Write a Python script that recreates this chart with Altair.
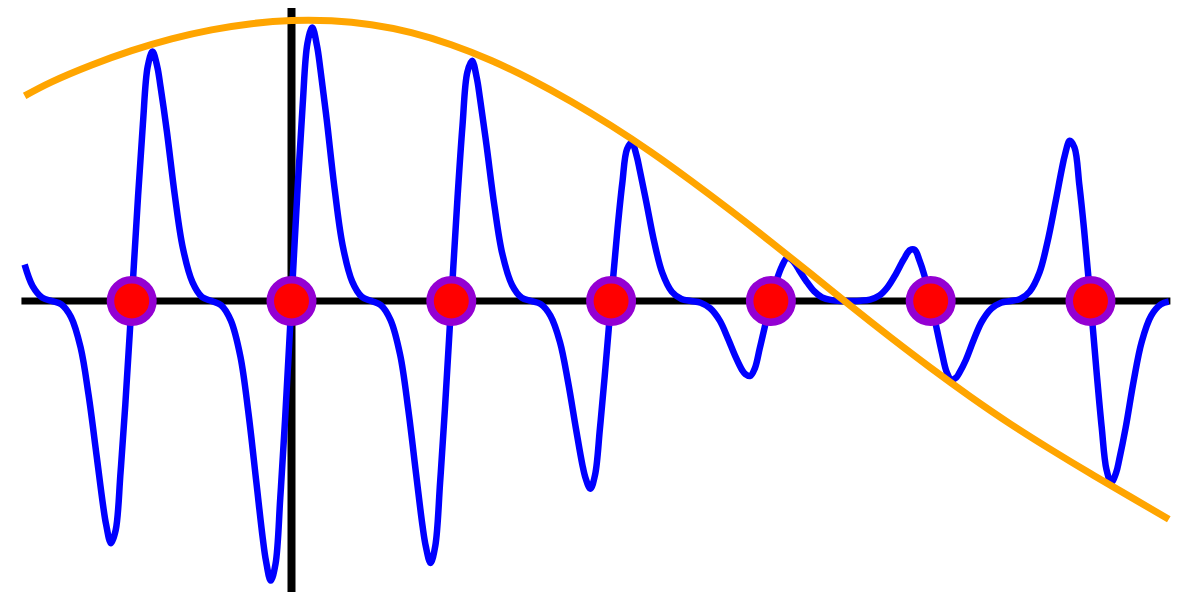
import altair as alt
import pandas as pd

# Sample points (sample index units) on the baseline
sample_x = [-1, 0, 1, 2, 3, 4, 5]
sample_y = [0.0, 0.0, 0.0, 0.0, 0.0, 0.0, 0.0]

# Orange envelope curve
orange_x = [-1.67, -1.50, -1.25, -1.00, -0.75, -0.50, -0.25, 0.00, 0.25, 0.50,
            0.75, 1.00, 1.25, 1.50, 1.75, 2.00, 2.25, 2.50, 2.75, 3.00,
            3.25, 3.50, 3.75, 4.00, 4.25, 4.50, 4.75, 5.00, 5.25, 5.49]
orange_y = [0.730, 0.780, 0.840, 0.891, 0.933, 0.965, 0.987, 0.998, 0.997, 0.983,
            0.955, 0.912, 0.856, 0.788, 0.710, 0.624, 0.530, 0.428, 0.321, 0.210,
            0.097, -0.018, -0.130, -0.238, -0.341, -0.438, -0.528, -0.614, -0.697, -0.777]

# Blue signal curve
blue_x = [-1.67, -1.62, -1.56, -1.50,
          -1.44, -1.38, -1.32, -1.27, -1.22, -1.18, -1.16, -1.13, -1.10, -1.07, -1.04, -1.00,
          -0.96, -0.93, -0.90, -0.87, -0.84, -0.82, -0.78, -0.73, -0.68, -0.62, -0.56, -0.50,
          -0.44, -0.38, -0.32, -0.27, -0.22, -0.18, -0.16, -0.13, -0.10, -0.07, -0.04, 0.00,
          0.04, 0.07, 0.10, 0.13, 0.16, 0.18, 0.22, 0.27, 0.32, 0.38, 0.44, 0.50,
          0.56, 0.62, 0.68, 0.73, 0.78, 0.82, 0.84, 0.87, 0.90, 0.93, 0.96, 1.00,
          1.04, 1.07, 1.10, 1.13, 1.16, 1.18, 1.22, 1.27, 1.32, 1.38, 1.44, 1.50,
          1.56, 1.62, 1.68, 1.73, 1.78, 1.82, 1.84, 1.87, 1.90, 1.93, 1.96, 2.00,
          2.04, 2.07, 2.10, 2.13, 2.16, 2.18, 2.22, 2.27, 2.32, 2.38, 2.44, 2.50,
          2.56, 2.62, 2.68, 2.73, 2.78, 2.82, 2.84, 2.87, 2.90, 2.93, 2.96, 3.00,
          3.04, 3.07, 3.10, 3.13, 3.16, 3.18, 3.22, 3.27, 3.32, 3.38, 3.44, 3.50,
          3.56, 3.62, 3.68, 3.73, 3.78, 3.82, 3.84, 3.87, 3.90, 3.93, 3.96, 4.00,
          4.04, 4.07, 4.10, 4.13, 4.16, 4.18, 4.22, 4.27, 4.32, 4.38, 4.44, 4.50,
          4.56, 4.62, 4.68, 4.73, 4.78, 4.82, 4.84, 4.87, 4.90, 4.93, 4.96, 5.00,
          5.04, 5.07, 5.10, 5.13, 5.16, 5.18, 5.22, 5.27, 5.32, 5.38, 5.44, 5.49]
blue_y = [0.130, 0.053, 0.012, 0.0,
          -0.012, -0.057, -0.165, -0.334, -0.549, -0.724, -0.796, -0.862, -0.815, -0.611, -0.369, 0.0,
          0.375, 0.630, 0.834, 0.888, 0.834, 0.764, 0.604, 0.375, 0.189, 0.067, 0.014, 0.0,
          -0.015, -0.069, -0.197, -0.396, -0.645, -0.844, -0.924, -0.995, -0.936, -0.698, -0.420, 0.0,
          0.420, 0.699, 0.918, 0.973, 0.907, 0.828, 0.647, 0.398, 0.198, 0.069, 0.015, 0.0,
          -0.015, -0.068, -0.192, -0.383, -0.617, -0.801, -0.872, -0.932, -0.871, -0.645, -0.385, 0.0,
          0.378, 0.624, 0.813, 0.855, 0.792, 0.719, 0.556, 0.338, 0.166, 0.057, 0.012, 0.0,
          -0.011, -0.052, -0.146, -0.286, -0.454, -0.582, -0.630, -0.668, -0.618, -0.454, -0.268, 0.0,
          0.256, 0.419, 0.541, 0.563, 0.516, 0.464, 0.353, 0.210, 0.101, 0.033, 0.007, 0.0,
          -0.006, -0.026, -0.070, -0.132, -0.200, -0.246, -0.260, -0.267, -0.239, -0.169, -0.096, 0.0,
          0.081, 0.125, 0.152, 0.147, 0.126, 0.107, 0.072, 0.035, 0.013, 0.003, 0.0, 0.0,
          0.001, 0.005, 0.020, 0.049, 0.094, 0.137, 0.157, 0.181, 0.182, 0.144, 0.092, 0.0,
          -0.105, -0.184, -0.253, -0.280, -0.272, -0.255, -0.210, -0.137, -0.073, -0.027, -0.006, 0.0,
          0.007, 0.034, 0.100, 0.208, 0.349, 0.468, 0.520, 0.570, 0.546, 0.414, 0.253, 0.0,
          -0.265, -0.449, -0.600, -0.646, -0.612, -0.564, -0.451, -0.285, -0.146, -0.052, -0.012, -0.002]

# Axis line extents
haxis_x = [-1.69, 5.50]
vaxis_y = [-1.07, 1.07]

xs = alt.Scale(domain=[-1.7741, 5.6352], nice=False, zero=False)
ys = alt.Scale(domain=[-1.0356, 1.0427], nice=False, zero=False)

X = lambda f="x": alt.X(f"{f}:Q", scale=xs, axis=None)
Y = lambda f="y": alt.Y(f"{f}:Q", scale=ys, axis=None)

h_axis = alt.Chart(pd.DataFrame({"x": [haxis_x[0]], "x2": [haxis_x[1]], "y": [0.0]})).mark_rule(
    color="black", strokeWidth=7
).encode(x=X(), x2="x2:Q", y=Y())

v_axis = alt.Chart(pd.DataFrame({"x": [0.0], "y": [vaxis_y[0]], "y2": [vaxis_y[1]]})).mark_rule(
    color="black", strokeWidth=8, clip=True
).encode(x=X(), y=Y(), y2="y2:Q")

blue_line = alt.Chart(pd.DataFrame({"x": blue_x, "y": blue_y})).mark_line(
    color="#0000FF", strokeWidth=6.5, interpolate="catmull-rom"
).encode(x=X(), y=Y())

orange_line = alt.Chart(pd.DataFrame({"x": orange_x, "y": orange_y})).mark_line(
    color="#FFA500", strokeWidth=7, interpolate="natural"
).encode(x=X(), y=Y())

points = alt.Chart(pd.DataFrame({"x": sample_x, "y": sample_y})).mark_point(
    shape="circle", filled=True, fill="#FF0000", stroke="#9400D3",
    strokeWidth=7.5, size=1806, opacity=1
).encode(x=X(), y=Y())

chart = alt.layer(h_axis, v_axis, blue_line, orange_line, points).properties(
    width=1184, height=584, padding=0,
    autosize=alt.AutoSizeParams(type="none"),
    background="white",
).configure_view(strokeWidth=0)

chart.save("out.html", embed_options={"renderer": "svg", "actions": False})
